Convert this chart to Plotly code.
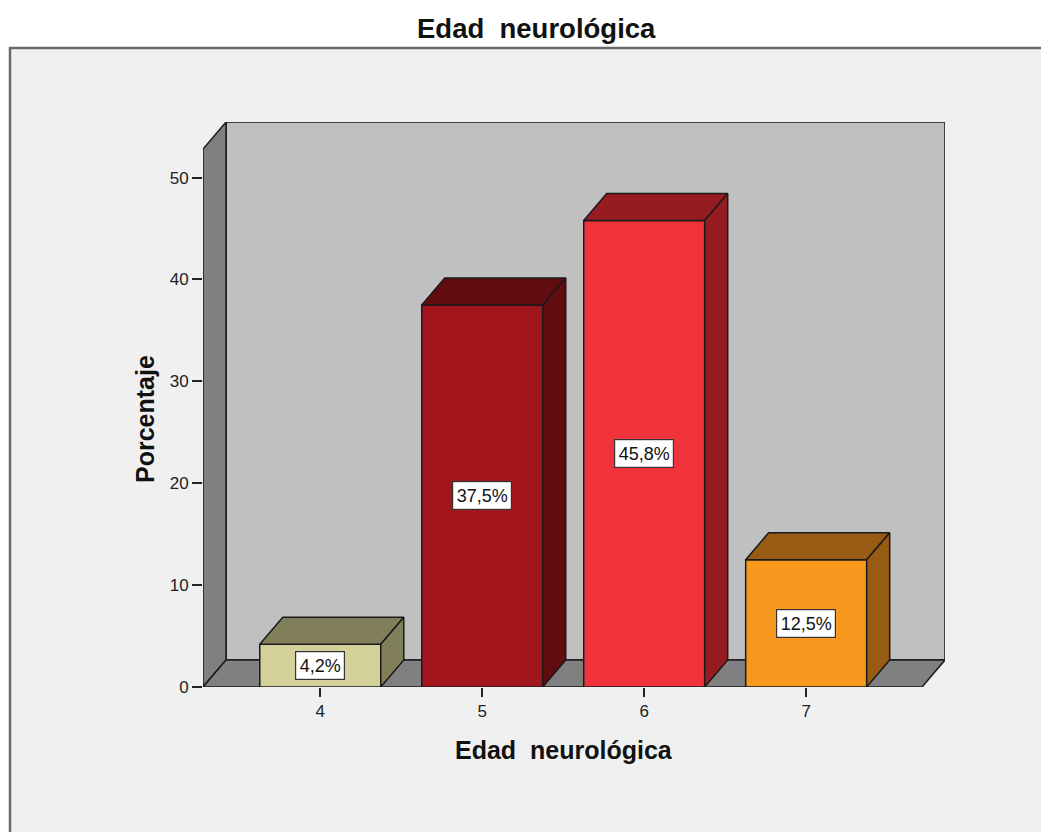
import plotly.graph_objects as go

# ---- data ----
categories = ["4", "5", "6", "7"]
percentages = [4.2, 37.5, 45.8, 12.5]
labels = ["4,2%", "37,5%", "45,8%", "12,5%"]
y_ticks = [0, 10, 20, 30, 40, 50]

front_colors = ["#d4d09a", "#a1151b", "#f0323a", "#f7991f"]
shade_colors = ["#807f5a", "#610d10", "#961c22", "#975b13"]

# ---- geometry ----
OFF = 8          # page body margin
S = 832 / 842    # vertical scale seen in the captured picture
W, H = 1049 - OFF, 834


def px(x):
    return (x - OFF) / W


def py(y):
    return 1 - (y / S - OFF) / H


x_lo, x_hi = -0.724, 3.715
y_top = 52.8
dx, dy = 0.142, 2.65
bar_w = 0.747
edge = "#1a1a1a"

xs = list(range(len(categories)))

fig = go.Figure()

# front faces
fig.add_trace(go.Bar(
    x=xs, y=percentages, width=bar_w,
    marker=dict(color=front_colors, line=dict(color=edge, width=1.5)),
    hoverinfo="skip", showlegend=False,
))

# top and side faces
for xi, v, c in zip(xs, percentages, shade_colors):
    l, r = xi - bar_w / 2, xi + bar_w / 2
    fig.add_trace(go.Scatter(
        x=[l, r, r + dx, l + dx, l], y=[v, v, v + dy, v + dy, v],
        mode="lines", fill="toself", fillcolor=c,
        line=dict(color=edge, width=1.5), hoverinfo="skip", showlegend=False,
    ))
    fig.add_trace(go.Scatter(
        x=[r, r, r + dx, r + dx, r], y=[0, v, v + dy, dy, 0],
        mode="lines", fill="toself", fillcolor=c,
        line=dict(color=edge, width=1.5), hoverinfo="skip", showlegend=False,
    ))

shapes = [
    # outer panel
    dict(type="rect", xref="paper", yref="paper", x0=px(10), x1=1.05, y0=-0.05, y1=py(48),
         fillcolor="#f0f0f0", line=dict(color="#6a6a6a", width=2.5), layer="below"),
    # back wall
    dict(type="rect", xref="x", yref="y", x0=x_lo + dx, x1=x_hi + dx, y0=dy, y1=y_top + dy,
         fillcolor="#c0c0c0", line=dict(color=edge, width=1.5), layer="below"),
    # left wall
    dict(type="path", xref="x", yref="y",
         path=f"M {x_lo},0 L {x_lo},{y_top} L {x_lo+dx},{y_top+dy} L {x_lo+dx},{dy} Z",
         fillcolor="#808080", line=dict(color=edge, width=1.5), layer="below"),
    # floor
    dict(type="path", xref="x", yref="y",
         path=f"M {x_lo},0 L {x_hi},0 L {x_hi+dx},{dy} L {x_lo+dx},{dy} Z",
         fillcolor="#808080", line=dict(color=edge, width=1.5), layer="below"),
]

annotations = [
    dict(text="<b>Edad  neurológica</b>", xref="paper", yref="paper", x=px(536), y=py(28),
         showarrow=False, font=dict(family="Liberation Sans", size=27.5, color="#111111"),
         xanchor="center", yanchor="middle"),
    dict(text="<b>Edad  neurológica</b>", xref="paper", yref="paper", x=px(564), y=py(750),
         showarrow=False, font=dict(family="Liberation Sans", size=25, color="#111111"),
         xanchor="center", yanchor="middle"),
    dict(text="<b>Porcentaje</b>", xref="paper", yref="paper", x=px(145), y=py(419),
         showarrow=False, textangle=-90, font=dict(family="Liberation Sans", size=25, color="#111111"),
         xanchor="center", yanchor="middle"),
]
for xi, v, t in zip(xs, percentages, labels):
    annotations.append(dict(
        text=t, x=xi, y=v / 2, xref="x", yref="y", showarrow=False,
        font=dict(family="Liberation Sans", size=18, color="#111111"),
        bgcolor="#ffffff", bordercolor="#333333", borderwidth=1.2, borderpad=3.5,
    ))

fig.update_layout(
    width=W, height=H,
    margin=dict(l=0, r=0, t=0, b=0),
    paper_bgcolor="#ffffff", plot_bgcolor="rgba(0,0,0,0)",
    shapes=shapes, annotations=annotations, showlegend=False,
    xaxis=dict(domain=[px(203), px(945)], range=[x_lo, x_hi + dx],
               tickvals=xs, ticktext=categories, ticks="outside", ticklen=9,
               tickwidth=1.5, tickcolor="#222222", showgrid=False, zeroline=False,
               showline=False, fixedrange=True,
               tickfont=dict(family="Liberation Sans", size=17, color="#222222")),
    yaxis=dict(domain=[py(687), py(122)], range=[0, y_top + dy],
               tickvals=y_ticks, ticks="outside", ticklen=10, tickwidth=1.5,
               tickcolor="#222222", showgrid=False, zeroline=False, showline=False,
               fixedrange=True,
               tickfont=dict(family="Liberation Sans", size=17, color="#222222")),
)

fig.write_html("out.html")
